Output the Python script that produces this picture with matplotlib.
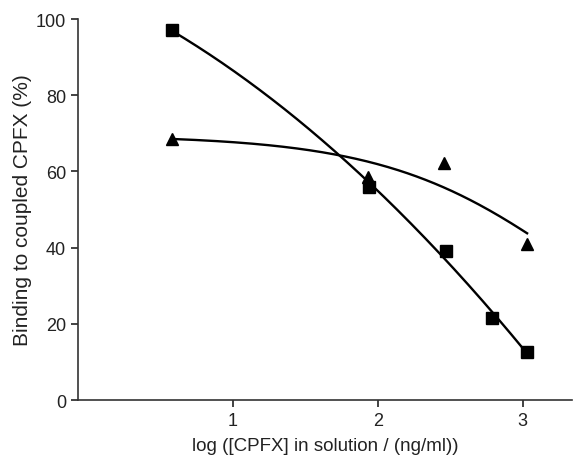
import numpy as np
import matplotlib
matplotlib.use("Agg")
import matplotlib.pyplot as plt

plt.rcParams['font.family'] = ['Liberation Sans', 'DejaVu Sans']

# Data (log concentration, binding %)
sq_x = [0.58, 1.94, 2.47, 2.79, 3.03]
sq_y = [97.0, 56.0, 39.0, 21.5, 12.5]
tri_x = [0.58, 1.93, 2.455, 3.03]
tri_y = [68.5, 58.5, 62.3, 41.0]
# fitted dose-response curve for the triangle series (as drawn in the figure)
tri_top = 69.5
tri_logc50 = 3.38
tri_hill = 0.66
x_ticks = [1, 2, 3]
y_ticks = [0, 20, 40, 60, 80, 100]


def logistic(x, top, c, h):
    return top / (1.0 + 10.0 ** ((x - c) * h))


fig = plt.figure(figsize=(5.75, 4.6), dpi=100)
ax = fig.add_axes([0.1357, 0.128, 0.9948 - 0.1357, 0.9565 - 0.128])

# fitted curves
xs = np.linspace(min(sq_x), max(sq_x), 200)
ps = np.polyfit(sq_x, sq_y, 2)
ax.plot(xs, np.polyval(ps, xs), color='black', lw=1.7)
xt = np.linspace(min(tri_x), max(tri_x), 200)
ax.plot(xt, logistic(xt, tri_top, tri_logc50, tri_hill), color='black', lw=1.7)

ax.plot(sq_x, sq_y, 's', color='black', ms=8, linestyle='none', zorder=3)
ax.plot(tri_x, tri_y, '^', color='black', ms=8, linestyle='none', zorder=3)

ax.set_xlim(-0.069, 3.34)
ax.set_ylim(0, 100)
ax.set_xticks(x_ticks)
ax.set_yticks(y_ticks)
for s in ['top', 'right']:
    ax.spines[s].set_visible(False)
for s in ['left', 'bottom']:
    ax.spines[s].set_linewidth(1.2)
    ax.spines[s].set_color('#333333')
ax.tick_params(direction='out', length=5, width=1.2, labelsize=13, colors='#222222')
ax.set_xlabel('log ([CPFX] in solution / (ng/ml))', fontsize=13.5, labelpad=6, color='#222222')
ax.set_ylabel('Binding to coupled CPFX (%)', fontsize=15, labelpad=3, color='#222222')

fig.savefig('out.png', dpi=100)
